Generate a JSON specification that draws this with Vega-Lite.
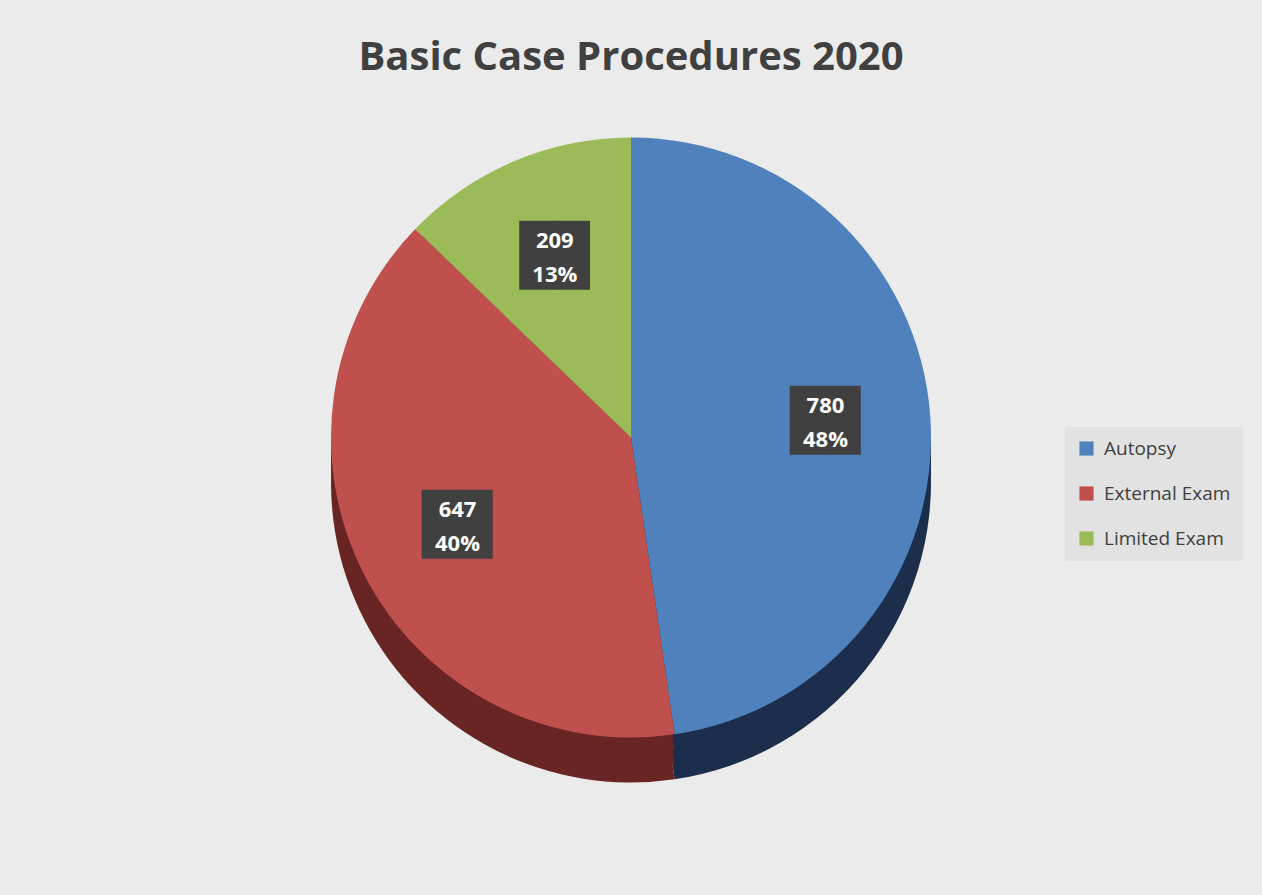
{
  "$schema": "https://vega.github.io/schema/vega-lite/v6.json",
  "autosize": {"type": "fit", "contains": "padding"},
  "width": 1262,
  "height": 895,
  "padding": {"left": 0, "right": 0, "top": 38, "bottom": 112},
  "background": "#ebebeb",
  "config": {
    "view": {"stroke": null},
    "font": "Open Sans"
  },
  "title": {
    "text": "Basic Case Procedures 2020",
    "fontSize": 40,
    "fontWeight": "bold",
    "font": "Open Sans",
    "color": "#404040",
    "anchor": "middle",
    "offset": 14
  },
  "data": {
    "values": [
      {"category": "Autopsy", "cases": 780, "share": 0.48},
      {"category": "External Exam", "cases": 647, "share": 0.40},
      {"category": "Limited Exam", "cases": 209, "share": 0.13}
    ]
  },
  "resolve": {"scale": {"color": "independent"}},
  "layer": [
    {
      "mark": {"type": "arc", "outerRadius": 300, "yOffset": 45},
      "encoding": {
        "theta": {"field": "cases", "type": "quantitative", "stack": true},
        "order": {"field": "category"},
        "color": {"field": "category", "type": "nominal", "legend": null,
          "scale": {"domain": ["Autopsy", "External Exam", "Limited Exam"], "range": ["#1c2e4b", "#682523", "#5f7336"]}}
      }
    },
    {
      "mark": {"type": "arc", "outerRadius": 300, "yOffset": 30},
      "encoding": {
        "theta": {"field": "cases", "type": "quantitative", "stack": true},
        "order": {"field": "category"},
        "color": {"field": "category", "type": "nominal", "legend": null,
          "scale": {"domain": ["Autopsy", "External Exam", "Limited Exam"], "range": ["#1c2e4b", "#682523", "#5f7336"]}}
      }
    },
    {
      "mark": {"type": "arc", "outerRadius": 300, "yOffset": 15},
      "encoding": {
        "theta": {"field": "cases", "type": "quantitative", "stack": true},
        "order": {"field": "category"},
        "color": {"field": "category", "type": "nominal", "legend": null,
          "scale": {"domain": ["Autopsy", "External Exam", "Limited Exam"], "range": ["#1c2e4b", "#682523", "#5f7336"]}}
      }
    },
    {
      "mark": {"type": "arc", "outerRadius": 300},
      "encoding": {
        "theta": {"field": "cases", "type": "quantitative", "stack": true},
        "order": {"field": "category"},
        "color": {
          "field": "category", "type": "nominal",
          "scale": {"domain": ["Autopsy", "External Exam", "Limited Exam"], "range": ["#4f81bd", "#c0504d", "#9bbb59"]},
          "legend": {
            "title": null,
            "orient": "none",
            "legendX": 1065,
            "legendY": 335,
            "fillColor": "#e2e2e2",
            "padding": 12,
            "symbolType": "square",
            "symbolSize": 200,
            "symbolStrokeWidth": 0,
            "labelFontSize": 19,
            "labelFont": "Open Sans",
            "labelColor": "#404040",
            "rowPadding": 25,
            "labelOffset": 8
          }
        }
      }
    },
    {
      "mark": {"type": "text", "radius": 195, "text": "██", "font": "DejaVu Sans Mono", "fontSize": 58, "color": "#404040", "baseline": "middle", "align": "center"},
      "encoding": {
        "theta": {"field": "cases", "type": "quantitative", "stack": true},
        "order": {"field": "category"}
      }
    },
    {
      "mark": {"type": "text", "radius": 195, "font": "Open Sans", "fontWeight": "bold", "fontSize": 22, "color": "white", "dy": -17, "baseline": "middle", "align": "center"},
      "encoding": {
        "theta": {"field": "cases", "type": "quantitative", "stack": true},
        "order": {"field": "category"},
        "text": {"field": "cases", "type": "quantitative"}
      }
    },
    {
      "mark": {"type": "text", "radius": 195, "font": "Open Sans", "fontWeight": "bold", "fontSize": 22, "color": "white", "dy": 17, "baseline": "middle", "align": "center"},
      "encoding": {
        "theta": {"field": "cases", "type": "quantitative", "stack": true},
        "order": {"field": "category"},
        "text": {"field": "share", "type": "quantitative", "format": ".0%"}
      }
    }
  ]
}
